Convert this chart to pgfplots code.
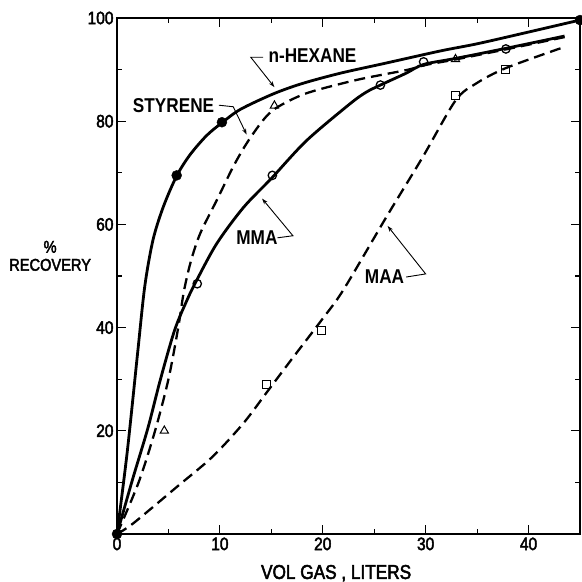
\documentclass[border=0pt]{standalone}
\usepackage{fontspec}
\setmainfont{Liberation Sans}[FakeStretch=0.86]
\newfontfamily\medfont{Liberation Sans}[FakeStretch=0.86, FakeBold=2.5]
\usepackage{pgfplots}
\pgfplotsset{compat=1.18}
\usetikzlibrary{arrows.meta}

\begin{document}
\begin{tikzpicture}
\begin{axis}[
  scale only axis, width=463pt, height=516pt,
  xmin=0, xmax=45, ymin=0, ymax=100,
  xtick={0,10,20,30,40}, ytick={20,40,60,80,100},
  minor xtick={5,15,25,35}, minor ytick={10,30,50,70,90},
  tick align=inside, tick pos=both,
  xticklabel pos=lower, yticklabel pos=left,
  major tick length=9pt, minor tick length=5pt,
  axis line style={line width=1.4pt},
  every tick/.style={line width=1.2pt, black},
  tick label style={font=\medfont\fontsize{18}{18}\selectfont},
  /pgf/number format/assume math mode=true,
  clip=false,
]
\coordinate (O) at (axis cs:0,0);

% n-HEXANE
\addplot[black, line width=2.8pt, smooth, tension=0.5] coordinates {
 (0,0) (1,16) (2,35) (2.7,48) (3.5,57) (4.5,63.4) (5.8,69.4) (7.1,73.5)
 (8.7,77.2) (10.2,79.7) (12,82.3) (15.2,85.3) (18,87.3) (21.7,89.3)
 (26,91.2) (31.4,93.6) (35,95) (39.4,97) (45,99.6)};
\addplot[only marks, mark=*, mark size=5pt, black] coordinates {
 (0,0) (5.8,69.5) (10.2,79.8) (45,99.6)};

% STYRENE
\addplot[black, line width=2.3pt, dash pattern=on 11pt off 6pt, smooth, tension=0.5] coordinates {
 (0,0) (2.1,10) (3.7,20) (5.0,30) (5.95,40) (6.5,47) (7.2,53) (8.1,58.3)
 (9.7,64.7) (11.3,71.2) (12.6,75.7) (14.2,80.2) (15.5,82.6) (18.4,85.4)
 (23.3,88) (28.1,89.9) (30,90.9) (33,92) (38,94) (43.5,96.3)};
\addplot[only marks, mark=triangle, mark size=4.8pt, black, mark options={line width=1pt, fill=white}] coordinates {
 (4.6,20) (15.3,83) (32.9,92)};

% MMA
\addplot[black, line width=2.8pt, smooth, tension=0.5] coordinates {
 (0,0) (1.5,10.5) (3,20.5) (4.2,29.8) (5.6,39.5) (6.8,45.3) (7.7,49)
 (9.7,56.3) (12.3,63.3) (15,68.9) (18.4,76.2) (22.6,83.3) (24.2,85.6)
 (25.6,87) (28.1,89.3) (29.8,91) (33,92.2) (38,94.2) (43.5,96.5)};
\addplot[only marks, mark=o, mark size=4.2pt, black, mark options={line width=1.3pt, fill=white}] coordinates {
 (7.8,48.5) (15.1,69.5) (25.6,87) (29.8,91.5) (37.8,94)};

% MAA
\addplot[black, line width=2.3pt, dash pattern=on 11pt off 6pt, smooth, tension=0.5] coordinates {
 (0,0) (1.6,2.1) (5.8,9.1) (9.3,15) (12.3,21.5) (14.5,27.3) (16.8,33.4)
 (19.9,41.5) (22,47.3) (26.2,61.5) (29.7,73) (32.9,84) (34.9,87.3)
 (37.8,90.3) (43.5,94.4)};
\addplot[only marks, mark=square, mark size=4pt, black, mark options={line width=1.1pt, fill=white}] coordinates {
 (14.5,29) (19.9,39.5) (32.9,85) (37.8,90)};

% curve labels with leaders
\tikzset{lbl/.style={font=\fontsize{20}{20}\selectfont\bfseries, inner sep=0pt},
         lead/.style={line width=0.9pt, -{Stealth[length=6pt,width=4pt]}}}
\node[lbl] at (axis cs:19.0,92.8) {n-HEXANE};
\draw[lead] (axis cs:14.2,92.4) -- (axis cs:13.0,92.4) -- (axis cs:15.3,86.6);
\node[lbl] at (axis cs:5.5,83.1) {STYRENE};
\draw[lead] (axis cs:9.9,83.1) -- (axis cs:11.3,82.8) -- (axis cs:12.6,77.4);
\node[lbl] at (axis cs:13.6,57.4) {MMA};
\draw[lead] (axis cs:15.6,57.4) -- (axis cs:17.1,57.8) -- (axis cs:14.1,65.0);
\node[lbl] at (axis cs:26.0,49.8) {MAA};
\draw[lead] (axis cs:28.1,49.8) -- (axis cs:30.0,50.4) -- (axis cs:26.3,59.7);

% axis titles
\node[align=center, font=\medfont\fontsize{17}{18}\selectfont] at (axis cs:-6.5,53.9) {\%\\RECOVERY};
\node[font=\medfont\fontsize{20}{20}\selectfont] at (axis cs:21.3,-7.6) {VOL GAS , LITERS};
\end{axis}
\pgfresetboundingbox
\path[use as bounding box] (O) ++(-117pt,-48pt) rectangle ++(582pt,582pt);
\end{tikzpicture}
\end{document}
